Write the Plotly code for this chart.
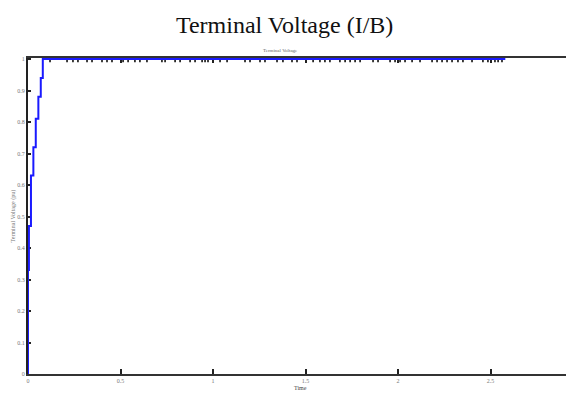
import plotly.graph_objects as go

# Step rise of the terminal voltage (time in s, voltage in pu)
rise_time = [0.0, 0.005, 0.016, 0.029, 0.042, 0.056, 0.069, 0.080, 2.58]
rise_level = [0.0, 0.33, 0.47, 0.63, 0.72, 0.81, 0.88, 0.94, 1.0]

# Small dips visible along the flat part of the response
dip_time = [0.119, 0.211, 0.243, 0.270, 0.319, 0.346, 0.400, 0.427, 0.454, 0.514,
            0.541, 0.578, 0.605, 0.643, 0.724, 0.741, 0.795, 0.822, 0.876, 0.903,
            0.941, 0.957, 0.973, 1.038, 1.076, 1.173, 1.200, 1.254, 1.281, 1.346,
            1.378, 1.427, 1.454, 1.541, 1.578, 1.605, 1.632, 1.686, 1.714, 1.741,
            1.768, 1.795, 1.865, 1.892, 1.957, 1.984, 2.011, 2.038, 2.076, 2.119,
            2.184, 2.211, 2.238, 2.265, 2.292, 2.324, 2.351, 2.400, 2.459, 2.486,
            2.524, 2.541, 2.562]
dip_top = 0.997
dip_bottom = 0.990

x_ticks = [0, 0.5, 1, 1.5, 2, 2.5]
x_tick_text = ["0", "0.5", "1", "1.5", "2", "2.5"]
y_ticks = [0, 0.1, 0.2, 0.3, 0.4, 0.5, 0.6, 0.7, 0.8, 0.9, 1]
y_tick_text = ["0", "0.1", "0.2", "0.3", "0.4", "0.5", "0.6", "0.7", "0.8", "0.9", "1"]

x_range = [0, 2.908]
y_range = [0, 1.0032]

dx, dy = [], []
for t in dip_time:
    dx += [t, t, None]
    dy += [dip_top, dip_bottom, None]

fig = go.Figure()
fig.add_trace(go.Scatter(x=rise_time, y=rise_level, mode="lines",
                         line=dict(color="#1a1aff", width=2, shape="vh"),
                         showlegend=False))
fig.add_trace(go.Scatter(x=dx, y=dy, mode="lines",
                         line=dict(color="#111111", width=1.6),
                         hoverinfo="skip", showlegend=False))

tick_font = dict(family="Liberation Serif", size=6, color="#777777")
fig.update_xaxes(range=x_range, tickvals=x_ticks, ticktext=x_tick_text,
                 showgrid=False, zeroline=False, showline=True, linecolor="#333333",
                 linewidth=1.5, mirror="ticks", ticks="inside", ticklen=5,
                 tickwidth=1.5, tickcolor="#222222", tickfont=tick_font,
                 layer="below traces")
fig.update_yaxes(range=y_range, tickvals=y_ticks, ticktext=y_tick_text,
                 showgrid=False, zeroline=False, showline=True, linecolor="#222222",
                 linewidth=2, ticks="inside", ticklen=3, tickwidth=1.5,
                 tickcolor="#222222", tickfont=tick_font, layer="below traces")

fig.update_layout(
    width=566, height=398,
    margin=dict(l=28, r=0, t=58, b=24),
    paper_bgcolor="white", plot_bgcolor="white",
    title=dict(text="Terminal Voltage (I/B)", x=270 / 566, xanchor="center",
               xref="paper", y=1 - 25 / 398, yanchor="middle",
               font=dict(family="Liberation Serif", size=24, color="#111111")),
    annotations=[
        dict(text="Terminal Voltage", xref="paper", yref="paper", x=0.47, y=1,
             yshift=12, showarrow=False,
             font=dict(family="Liberation Serif", size=5, color="#666666")),
        dict(text="Time", xref="paper", yref="paper", x=0.507, y=0,
             yshift=-19, showarrow=False,
             font=dict(family="Liberation Serif", size=6, color="#444444")),
        dict(text="Terminal Voltage (pu)", xref="paper", yref="paper", x=0, y=0.5,
             xshift=-21, textangle=-90, showarrow=False,
             font=dict(family="Liberation Serif", size=6, color="#777777")),
    ],
)

fig.write_html("out.html")
